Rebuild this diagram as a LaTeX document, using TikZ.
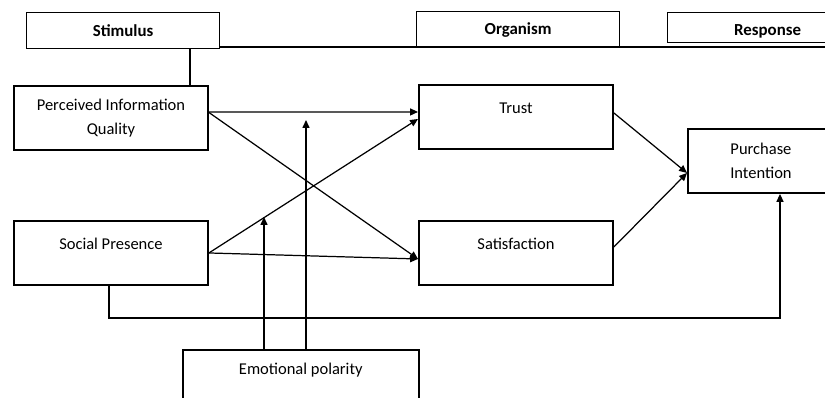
\documentclass[tikz,border=0pt]{standalone}
\usepackage{fontspec}
\setmainfont{Carlito}
\usetikzlibrary{arrows.meta, positioning}

\begin{document}
\begin{tikzpicture}[x=0.02cm, y=-0.02cm,
    every node/.style={font=\fontsize{9.4pt}{13.6pt}\selectfont},
    box/.style={draw, line width=1.1pt, anchor=north west, inner sep=0pt, align=center,
        minimum width=3.88cm, minimum height=1.28cm},
    oneline/.style={text depth=10pt},
    head/.style={draw, line width=0.7pt, anchor=north west, inner sep=0pt,
        minimum height=0.72cm, font=\fontsize{9.6pt}{13.6pt}\selectfont\bfseries},
    link/.style={line width=0.7pt},
    arr/.style={link, -{Triangle[length=4.5pt, width=4pt]}}]
    \useasboundingbox (0,0) rectangle (825,397);
    \clip (0,0) rectangle (825,397);

    % stage headers
    \node[head, minimum width=3.86cm] (stim) at (26,12) {Stimulus};
    \node[head, minimum width=4.06cm] (org) at (416,11) {Organism};
    \node[head, minimum width=4cm, minimum height=0.6cm, text height=10.4pt] (resp) at (667,12) {Response};
    \coordinate (rend) at (825,47);
    \draw[link] (stim.south east |- rend) -- (rend);
    \coordinate (s1) at (190,48);

    % constructs
    \node[box] (piq) at (13,85) {Perceived Information\\Quality};
    \node[box, oneline] (sp) at (13,220) {Social Presence};
    \node[box, oneline] (trust) at (418,84) {Trust};
    \node[box, oneline] (sat) at (418,220) {Satisfaction};
    \node[box, minimum width=2.92cm] (pi) at (687,128) {Purchase\\Intention};
    \node[box, oneline, line width=0.9pt, minimum width=4.72cm, minimum height=1.12cm] (ep) at (182,349) {Emotional polarity};

    \draw[link] (s1) -- (s1 |- piq.north);

    % paths
    \draw[arr] ([yshift=1.2mm]piq.east) -- ([yshift=1mm]trust.west);
    \draw[arr] ([yshift=1.1mm]piq.east) -- ([yshift=-1.2mm]sat.west);
    \draw[arr] (sp.east) -- ([yshift=-0.4mm]trust.west);
    \draw[arr] (sp.east) -- ([yshift=-1.2mm]sat.west);
    \draw[arr] ([yshift=0.8mm]trust.east) -- ([yshift=-2.4mm]pi.west);
    \draw[arr] ([yshift=1.2mm]sat.east) -- ([yshift=-2.4mm]pi.west);

    \coordinate (c1) at (780,318);
    \draw[arr] ([xshift=-0.4mm]sp.south) |- (c1) -- (c1 |- pi.south);

    % moderator
    \coordinate (m1) at (264,217);
    \coordinate (m2) at (306,120);
    \draw[arr] (m1 |- ep.north) -- (m1);
    \draw[arr] (m2 |- ep.north) -- (m2);
\end{tikzpicture}
\end{document}
